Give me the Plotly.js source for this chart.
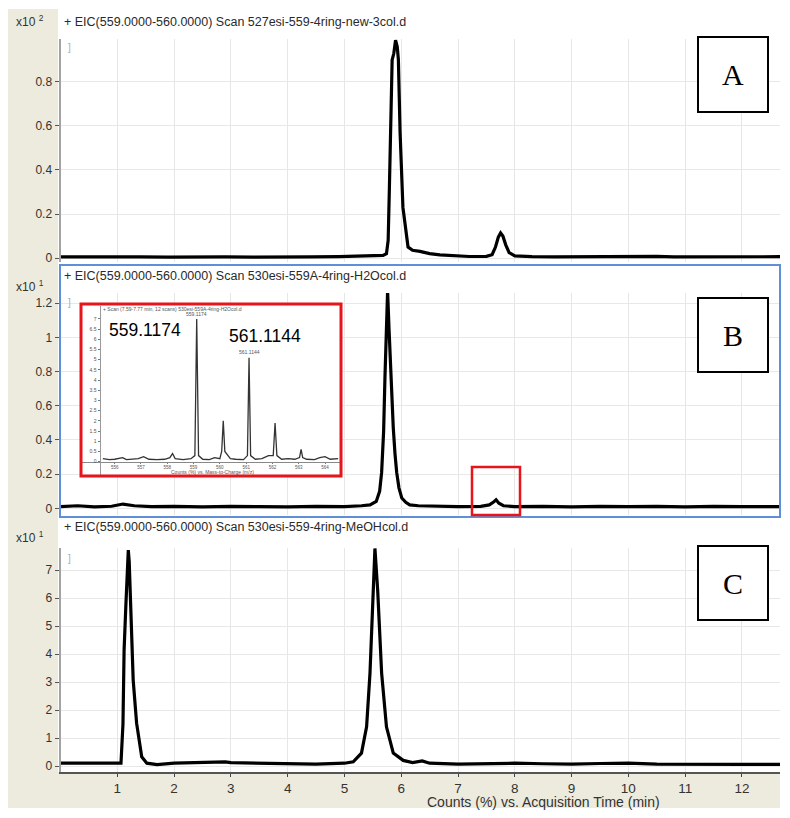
<!DOCTYPE html>
<html>
<head>
<meta charset="utf-8">
<script src="https://cdn.plot.ly/plotly-3.0.1.min.js"></script>
<style>
  html, body { margin: 0; padding: 0; background: #fff; }
  #plot { width: 790px; height: 818px; }
</style>
</head>
<body>
<div id="plot"></div>
<script>
"use strict";

// Panel A: EIC 527esi-559-4ring-new-3col (x10^2 counts)
const aTime = [0, 0.4, 0.9, 1.4, 1.9, 2.4, 2.9, 3.4, 3.9, 4.4,
    4.9, 5.3, 5.55, 5.68, 5.74, 5.77, 5.79, 5.82, 5.84, 5.87,
    5.90, 5.93, 5.95, 5.98, 6.03, 6.12, 6.2, 6.33, 6.5, 6.68,
    6.9, 7.2, 7.5, 7.6, 7.66, 7.71, 7.75, 7.79, 7.84, 7.9,
    8.0, 8.3, 8.7, 9.2, 9.7, 10.2, 10.5, 10.8, 11.3, 11.8,
    12.3, 12.67];
const aCounts = [0.005, 0.004, 0.006, 0.005, 0.004, 0.006, 0.005, 0.004, 0.006, 0.005,
    0.006, 0.008, 0.01, 0.012, 0.02, 0.08, 0.3, 0.65, 0.9, 0.93,
    0.99, 0.96, 0.9, 0.57, 0.23, 0.05, 0.035, 0.03, 0.02, 0.014,
    0.01, 0.007, 0.008, 0.015, 0.05, 0.095, 0.114, 0.1, 0.06, 0.025,
    0.01, 0.006, 0.005, 0.006, 0.005, 0.006, 0.008, 0.005, 0.006, 0.005,
    0.006, 0.006];

// Panel B: EIC 530esi-559A-4ring-H2Ocol (x10^1 counts)
const bTime = [0, 0.3, 0.6, 0.9, 1.1, 1.3, 1.6, 2.0, 2.5, 3.0,
    3.5, 4.0, 4.5, 5.0, 5.3, 5.45, 5.56, 5.62, 5.655, 5.69,
    5.713, 5.74, 5.76, 5.785, 5.813, 5.84, 5.86, 5.89, 5.92, 5.96,
    6.01, 6.08, 6.15, 6.3, 6.6, 7.0, 7.4, 7.55, 7.62, 7.67,
    7.72, 7.8, 8.0, 8.5, 9.0, 9.5, 10.0, 10.5, 11.0, 11.5,
    12.0, 12.67];
const bCounts = [0.01, 0.015, 0.008, 0.012, 0.025, 0.015, 0.01, 0.012, 0.008, 0.012,
    0.01, 0.008, 0.012, 0.01, 0.015, 0.02, 0.04, 0.1, 0.21, 0.45,
    0.76, 1.05, 1.27, 1.05, 0.82, 0.62, 0.47, 0.32, 0.21, 0.12,
    0.06, 0.035, 0.02, 0.015, 0.012, 0.01, 0.012, 0.02, 0.035, 0.05,
    0.03, 0.015, 0.01, 0.012, 0.008, 0.012, 0.01, 0.012, 0.008, 0.012,
    0.01, 0.01];

// Panel C: EIC 530esi-559-4ring-MeOHcol (x10^1 counts)
const cTime = [0, 0.5, 1.0, 1.065, 1.10, 1.12, 1.15, 1.18, 1.194, 1.21,
    1.24, 1.28, 1.34, 1.43, 1.52, 1.7, 2.0, 2.5, 2.9, 3.0,
    3.5, 4.0, 4.5, 5.0, 5.155, 5.30, 5.39, 5.45, 5.50, 5.537,
    5.585, 5.655, 5.74, 5.86, 6.035, 6.2, 6.37, 6.5, 7.0, 7.5,
    8.0, 8.5, 9.0, 9.5, 10.0, 10.5, 11.0, 11.5, 12.0, 12.67];
const cCounts = [0.1, 0.1, 0.08, 0.1, 1.5, 4.14, 5.69, 7.5, 7.71, 7.3,
    5.7, 3.07, 1.53, 0.33, 0.1, 0.05, 0.1, 0.12, 0.15, 0.12,
    0.1, 0.08, 0.07, 0.1, 0.15, 0.46, 1.40, 3.32, 6.29, 7.77,
    6.29, 3.32, 1.40, 0.46, 0.2, 0.12, 0.18, 0.1, 0.07, 0.08,
    0.1, 0.08, 0.07, 0.09, 0.1, 0.07, 0.06, 0.07, 0.06, 0.06];

// Inset: mass spectrum, scan 7.59-7.77 min
const insetMz = [555.55, 555.8, 556.0, 556.3, 556.45, 556.6, 556.9, 557.1, 557.3, 557.6,
    557.9, 558.1, 558.2, 558.3, 558.6, 558.9, 559.05, 559.12, 559.19, 559.35,
    559.6, 559.8, 560.0, 560.07, 560.13, 560.19, 560.3, 560.4, 560.6, 560.9,
    561.05, 561.11, 561.17, 561.35, 561.6, 561.85, 562.03, 562.1, 562.17, 562.35,
    562.6, 562.85, 563.03, 563.09, 563.15, 563.3, 563.6, 563.8, 564.0, 564.2,
    564.5];
const insetCounts = [0.15, 0.1, 0.12, 0.2, 0.1, 0.12, 0.15, 0.25, 0.12, 0.1,
    0.12, 0.2, 0.4, 0.15, 0.1, 0.15, 0.3, 7.0, 0.3, 0.12,
    0.1, 0.2, 0.15, 0.5, 2.0, 0.5, 0.3, 0.15, 0.12, 0.1,
    0.3, 5.1, 0.3, 0.12, 0.15, 0.3, 0.3, 1.9, 0.3, 0.12,
    0.15, 0.12, 0.2, 0.6, 0.2, 0.12, 0.1, 0.2, 0.25, 0.12,
    0.15];

const timeTicks = [1, 2, 3, 4, 5, 6, 7, 8, 9, 10, 11, 12];
const mzTicks = [556, 557, 558, 559, 560, 561, 562, 563, 564];
const insetCountTicks = [0, 0.5, 1, 1.5, 2, 2.5, 3, 3.5, 4, 4.5, 5, 5.5, 6, 6.5, 7];
const panelTitles = [
    "+ EIC(559.0000-560.0000) Scan 527esi-559-4ring-new-3col.d",
    "+ EIC(559.0000-560.0000) Scan 530esi-559A-4ring-H2Ocol.d",
    "+ EIC(559.0000-560.0000) Scan 530esi-559-4ring-MeOHcol.d",
];
const panelLetters = ["A", "B", "C"];
const scaleLabels = ["x10 <sup>2</sup>", "x10 <sup>1</sup>", "x10 <sup>1</sup>"];

const W = 790, H = 818;
const px = v => v / W;
const py = v => 1 - v / H;

const SANS = "Liberation Sans, Arial, sans-serif";
const NARROW = "Liberation Sans Narrow, Liberation Sans, Arial, sans-serif";
const BEIGE = "#ecebde";

const lineStyle = { color: "#000", width: 3.2 };
const traces = [
    { x: aTime, y: aCounts, xaxis: "x", yaxis: "y", type: "scatter", mode: "lines", line: lineStyle },
    { x: bTime, y: bCounts, xaxis: "x", yaxis: "y2", type: "scatter", mode: "lines", line: lineStyle },
    { x: cTime, y: cCounts, xaxis: "x", yaxis: "y3", type: "scatter", mode: "lines", line: lineStyle },
    { x: insetMz, y: insetCounts, xaxis: "x2", yaxis: "y4", type: "scatter", mode: "lines",
      line: { color: "#333", width: 1.3 } },
];

function yAxis(domTop, domBot, range, dtick) {
    return {
        domain: [py(domBot), py(domTop)], range: range, anchor: "x",
        tick0: 0, dtick: dtick, ticks: "outside", ticklen: 4, tickcolor: "#555",
        tickfont: { family: SANS, size: 12, color: "#333" },
        showline: true, linecolor: "#a3a3a3", linewidth: 2,
        showgrid: true, gridcolor: "#e8e8e8", zeroline: false, fixedrange: true,
    };
}

const annotations = [];
const titleY = [22, 276, 527];
const scaleY = [21, 286, 537];
const markY = [47, 302, 558];
for (let i = 0; i < 3; i++) {
    annotations.push({ text: panelTitles[i], x: px(62), y: py(titleY[i]), xref: "paper", yref: "paper",
        xanchor: "left", yanchor: "middle", showarrow: false,
        font: { family: SANS, size: 12.5, color: "#2a2a2a" } });
    annotations.push({ text: scaleLabels[i], x: px(14), y: py(scaleY[i]), xref: "paper", yref: "paper",
        xanchor: "left", yanchor: "middle", showarrow: false,
        font: { family: SANS, size: 12, color: "#333" } });
    annotations.push({ text: "]", x: px(66), y: py(markY[i]), xref: "paper", yref: "paper",
        xanchor: "left", yanchor: "middle", showarrow: false,
        font: { family: SANS, size: 10, color: "#aaa" } });
}
const boxY = [[37, 112], [298, 372], [546, 620]];
for (let i = 0; i < 3; i++) {
    annotations.push({ text: panelLetters[i], x: px(733), y: py((boxY[i][0] + boxY[i][1]) / 2),
        xref: "paper", yref: "paper", xanchor: "center", yanchor: "middle", showarrow: false,
        font: { family: "Liberation Serif, Times New Roman, serif", size: 30, color: "#000" } });
}
annotations.push({ text: "Counts (%) vs. Acquisition Time (min)", x: px(543), y: py(802),
    xref: "paper", yref: "paper", xanchor: "center", yanchor: "middle", showarrow: false,
    font: { family: NARROW, size: 14, color: "#333" } });

// inset texts
annotations.push({ text: "+ Scan (7.59-7.77 min, 12 scans) 530esi-559A-4ring-H2Ocol.d",
    x: px(101), y: py(309), xref: "paper", yref: "paper", xanchor: "left", yanchor: "middle",
    showarrow: false, font: { family: SANS, size: 5, color: "#555" } });
annotations.push({ text: "Counts (%) vs. Mass-to-Charge (m/z)", x: px(212), y: py(472.5),
    xref: "paper", yref: "paper", xanchor: "center", yanchor: "middle", showarrow: false,
    font: { family: SANS, size: 5, color: "#555" } });
annotations.push({ text: "559.1174", x: 559.12, y: 7.0, xref: "x2", yref: "y4",
    xanchor: "center", yanchor: "bottom", yshift: 0, showarrow: false,
    font: { family: SANS, size: 5, color: "#555" } });
annotations.push({ text: "561.1144", x: 561.11, y: 5.1, xref: "x2", yref: "y4",
    xanchor: "center", yanchor: "bottom", yshift: 1, showarrow: false,
    font: { family: SANS, size: 5, color: "#555" } });
annotations.push({ text: "559.1174", x: px(145), y: py(330), xref: "paper", yref: "paper",
    xanchor: "center", yanchor: "middle", showarrow: false,
    font: { family: SANS, size: 17.5, color: "#000" } });
annotations.push({ text: "561.1144", x: px(265), y: py(336), xref: "paper", yref: "paper",
    xanchor: "center", yanchor: "middle", showarrow: false,
    font: { family: SANS, size: 17.5, color: "#000" } });

const shapes = [
    // beige software frame
    { type: "rect", xref: "paper", yref: "paper", layer: "below", line: { width: 0 }, fillcolor: BEIGE,
      x0: px(8), x1: px(58), y0: py(808), y1: py(9) },
    { type: "rect", xref: "paper", yref: "paper", layer: "below", line: { width: 0 }, fillcolor: BEIGE,
      x0: px(8), x1: px(780), y0: py(808), y1: py(772) },
    // inset frame strips
    { type: "rect", xref: "x2 domain", yref: "y4 domain", layer: "below", line: { width: 0 }, fillcolor: BEIGE,
      x0: 0, x1: 0.073, y0: 0, y1: 1 },
    { type: "rect", xref: "x2 domain", yref: "y4 domain", layer: "below", line: { width: 0 }, fillcolor: BEIGE,
      x0: 0, x1: 1, y0: 0, y1: 0.075 },
    // selected panel frame
    { type: "rect", xref: "paper", yref: "paper", layer: "above", line: { color: "#5f8fd6", width: 2 },
      x0: px(60), x1: px(780), y0: py(517), y1: py(265) },
    // red inset border and small red box
    { type: "rect", xref: "paper", yref: "paper", layer: "above", line: { color: "#e8141b", width: 3 },
      x0: px(81), x1: px(341), y0: py(476), y1: py(304) },
    { type: "rect", xref: "paper", yref: "paper", layer: "above", line: { color: "#e8141b", width: 2.5 },
      x0: px(472), x1: px(520), y0: py(515), y1: py(467) },
];
for (let i = 0; i < 3; i++) {
    shapes.push({ type: "rect", xref: "paper", yref: "paper", layer: "above",
        line: { color: "#000", width: 2 }, fillcolor: "#fff",
        x0: px(698), x1: px(768), y0: py(boxY[i][1]), y1: py(boxY[i][0]) });
}

const layout = {
    width: W, height: H,
    margin: { l: 0, r: 0, t: 0, b: 0 },
    paper_bgcolor: "#fff", plot_bgcolor: "#fff",
    showlegend: false, hovermode: false,
    xaxis: {
        domain: [px(60.5), px(780)], range: [0, 12.67], anchor: "y3",
        tickvals: timeTicks, ticks: "outside", ticklen: 3, tickcolor: "#444",
        tickfont: { family: NARROW, size: 13.5, color: "#333" },
        showline: true, linecolor: "#555", linewidth: 1.5,
        showgrid: true, gridcolor: "#e6e6e6", zeroline: false, fixedrange: true,
    },
    yaxis: yAxis(39, 262, [-0.018, 0.995], 0.2),
    yaxis2: yAxis(293, 515, [-0.039, 1.259], 0.2),
    yaxis3: yAxis(548, 772, [-0.214, 7.786], 1),
    xaxis2: {
        domain: [px(80.5), px(340)], range: [554.70, 564.57],
        anchor: "free", position: py(462),
        tickvals: mzTicks, ticks: "outside", ticklen: 1, tickcolor: "#777",
        tickfont: { family: SANS, size: 4.5, color: "#555" },
        showline: true, linecolor: "#888", linewidth: 1,
        showgrid: false, zeroline: false, fixedrange: true,
    },
    yaxis4: {
        domain: [py(474.5), py(306)], range: [-0.627, 7.632],
        anchor: "free", position: px(99.5),
        tickvals: insetCountTicks, ticks: "outside", ticklen: 2, tickcolor: "#777",
        tickfont: { family: SANS, size: 5, color: "#555" },
        showline: true, linecolor: "#999", linewidth: 1,
        showgrid: false, zeroline: false, fixedrange: true,
    },
    shapes: shapes,
    annotations: annotations,
};

Plotly.newPlot("plot", traces, layout, { displayModeBar: false, staticPlot: true });
</script>
</body>
</html>
